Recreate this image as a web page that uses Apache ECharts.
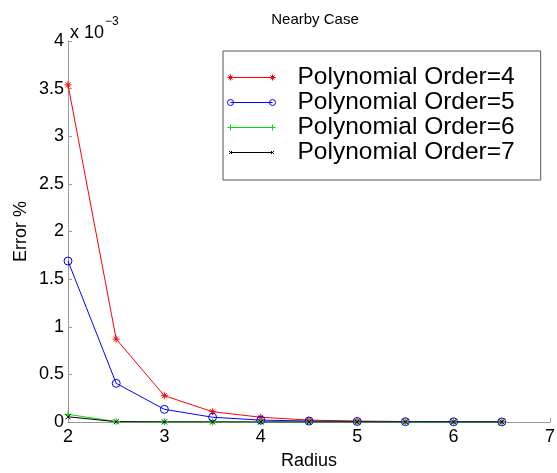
<!DOCTYPE html>
<html>
<head>
<meta charset="utf-8">
<script src="https://cdn.jsdelivr.net/npm/echarts@6/dist/echarts.min.js"></script>
<style>
  html, body { margin: 0; padding: 0; background: #fff; }
  #chart { width: 557px; height: 473px; }
</style>
</head>
<body>
<div id="chart"></div>
<script>
// values in units of 1e-3 (Error %)
var radius = [2, 2.5, 3, 3.5, 4, 4.5, 5, 5.5, 6, 6.5];
var order4 = [3.54, 0.87, 0.276, 0.108, 0.05, 0.02, 0.01, 0.005, 0.003, 0.002];
var order5 = [1.69, 0.406, 0.133, 0.05, 0.02, 0.01, 0.005, 0.003, 0.002, 0.001];
var order6 = [0.08, 0.005, 0.001, 0.0005, 0, 0, 0, 0, 0, 0];
var order7 = [0.055, 0.003, 0.001, 0.0005, 0, 0, 0, 0, 0, 0];
var names = ["Polynomial Order=4", "Polynomial Order=5", "Polynomial Order=6", "Polynomial Order=7"];
var colors = ["#ff0000", "#0000ff", "#00dd00", "#000000"];

var font = "'Liberation Sans', Arial, sans-serif";

function pairs(ys) {
  return radius.map(function (x, i) { return [x, ys[i]]; });
}

// marker shapes (stroked)
var starPath = "path://M5,0L5,10M0,5L10,5M1.5,1.5L8.5,8.5M8.5,1.5L1.5,8.5";
var circlePath = "path://M0,5a5,5 0 1,0 10,0a5,5 0 1,0 -10,0";
var plusPath = "path://M5,0L5,10M0,5L10,5";
var crossPath = "path://M0,0L10,10M10,0L0,10";

// legend icons: line with a marker at each end, box 48x6
var lineSeg = "M3,4L45,4";
var legendIcons = [
  "path://" + lineSeg + "M3,1L3,7M0,4L6,4M1,2L5,6M5,2L1,6M45,1L45,7M42,4L48,4M43,2L47,6M47,2L43,6",
  "path://" + lineSeg + "M0,4a3,3 0 1,0 6,0a3,3 0 1,0 -6,0M42,4a3,3 0 1,0 6,0a3,3 0 1,0 -6,0",
  "path://" + lineSeg + "M3,1L3,7M0,4L6,4M45,1L45,7M42,4L48,4",
  "path://" + lineSeg + "M1.5,2.5L4.5,5.5M4.5,2.5L1.5,5.5M43.5,2.5L46.5,5.5M46.5,2.5L43.5,5.5M0,1L0,1M48,7L48,7"
];

function makeSeries(i, ys, symbol, size) {
  return {
    name: names[i],
    type: "line",
    data: pairs(ys),
    symbol: symbol,
    symbolSize: size,
    showAllSymbol: true,
    lineStyle: { color: colors[i], width: 1 },
    itemStyle: { color: "transparent", borderColor: colors[i], borderWidth: 1 },
    emphasis: { disabled: true },
    animation: false
  };
}

var chart = echarts.init(document.getElementById("chart"));
chart.setOption({
  animation: false,
  textStyle: { fontFamily: font },
  title: {
    text: "Nearby Case",
    left: 310,
    top: 7,
    textAlign: "center",
    textStyle: { fontFamily: font, fontSize: 15, fontWeight: "normal", color: "#000" }
  },
  grid: { left: 68, right: 7, top: 41, bottom: 51, outerBoundsMode: "none" },
  legend: {
    orient: "vertical",
    left: 223,
    top: 51,
    padding: [14, 26, 15, 4],
    backgroundColor: "#fff",
    borderColor: "#555",
    borderWidth: 1,
    itemWidth: 48,
    itemHeight: 6,
    itemGap: 0,
    data: names.map(function (n, i) {
      return {
        name: n,
        icon: legendIcons[i],
        itemStyle: { color: "transparent", borderColor: colors[i], borderWidth: 1 }
      };
    }),
    textStyle: { fontFamily: font, fontSize: 24.5, lineHeight: 25, color: "#000", padding: [0, 0, 0, 17] }
  },
  graphic: [{
    type: "text",
    left: 70,
    top: 16,
    style: {
      text: "{a|x 10}{b|−3}",
      rich: {
        a: { fontFamily: font, fontSize: 18, fill: "#000", verticalAlign: "bottom" },
        b: { fontFamily: font, fontSize: 12, fill: "#000", verticalAlign: "top", padding: [0, 0, 14, 1] }
      }
    }
  }],
  xAxis: {
    type: "value",
    min: 2,
    max: 7,
    interval: 1,
    name: "Radius",
    nameLocation: "middle",
    nameGap: 30,
    nameTextStyle: { fontFamily: font, fontSize: 18, color: "#000" },
    axisLine: { lineStyle: { color: "#999" } },
    axisTick: { inside: true, length: 4, lineStyle: { color: "#999" } },
    axisLabel: { fontFamily: font, fontSize: 18, color: "#000", margin: 6 },
    splitLine: { show: false }
  },
  yAxis: {
    type: "value",
    min: 0,
    max: 4,
    interval: 0.5,
    name: "Error %",
    nameLocation: "middle",
    nameGap: 38,
    nameMoveOverlap: false,
    nameTextStyle: { fontFamily: font, fontSize: 18, color: "#000" },
    axisLine: { show: true, lineStyle: { color: "#999" } },
    axisTick: { show: true, inside: true, length: 4, lineStyle: { color: "#999" } },
    axisLabel: { fontFamily: font, fontSize: 18, color: "#000", margin: 4 },
    splitLine: { show: false }
  },
  series: [
    makeSeries(0, order4, starPath, 7),
    makeSeries(1, order5, circlePath, 8),
    makeSeries(2, order6, plusPath, 7),
    makeSeries(3, order7, crossPath, 5)
  ]
});
</script>
</body>
</html>
